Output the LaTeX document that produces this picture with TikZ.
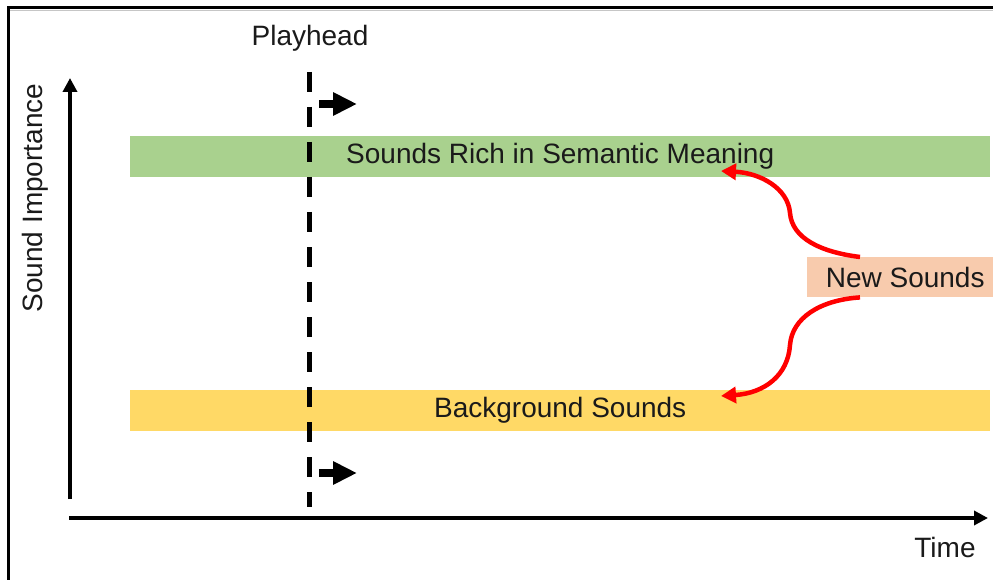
\documentclass[tikz,border=0pt]{standalone}
\usepackage{fontspec}
\setmainfont{Liberation Sans}
\usetikzlibrary{arrows.meta,calc}
\definecolor{bandgreen}{HTML}{A9D18E}
\definecolor{bandyellow}{HTML}{FFD966}
\definecolor{boxpeach}{HTML}{F8CBAD}
\definecolor{inktext}{HTML}{1A1A1A}
\begin{document}
\begin{tikzpicture}[x=1pt,y=-1pt,
  lbl/.style={font=\fontsize{28}{32}\selectfont, text=inktext, inner sep=0pt},
  band/.style={lbl, minimum width=860pt, minimum height=41pt, anchor=north west},
  axis/.style={line width=4pt, -{Triangle[length=14pt,width=14pt]}},
  move/.style={line width=8pt, -{Triangle[length=24pt,width=22pt]}},
  feed/.style={red, line width=4.5pt, -{Triangle[length=15pt,width=16pt]}},
  headline/.style={line width=5pt, dash pattern=on 20pt off 15pt}]

\useasboundingbox (0,0) rectangle (993,580);
\fill[white] (0,0) rectangle (993,580);

% outer frame (top and left edges)
\draw[gray!45, line width=1pt] (10,10.5) -- (1000,10.5);
\draw[line width=3pt] (8,600) -- (8,8) -- (1000,8);

% importance bands
\node[band, fill=bandgreen] (rich) at (130,136) {Sounds Rich in Semantic Meaning};
\node[band, fill=bandyellow] (bg) at (130,390) {Background Sounds};

% incoming sounds
\node[lbl, fill=boxpeach, minimum width=196pt, minimum height=40pt, anchor=north west] (new) at (807,257) {New Sounds};

% axes
\coordinate (ybot) at (70,499);
\coordinate (ytop) at (70,78);
\coordinate (xstart) at (69,518);
\coordinate (xend) at (988,518);
\draw[axis] (ybot) -- (ytop);
\draw[axis] (xstart) -- (xend);
\node[lbl, rotate=90] (ylab) at (35,198) {Sound Importance};
\node[lbl] (xlab) at (945,547) {Time};

% playhead
\node[lbl] (ph) at (310,38) {Playhead};
\coordinate (phtop) at (309,72);
\coordinate (phbot) at (309,507);
\draw[headline] (phtop) -- (phbot);
\coordinate (m1s) at (319,104);
\coordinate (m1e) at (357,104);
\coordinate (m2s) at (319,473);
\coordinate (m2e) at (357,473);
\draw[move] (m1s) -- (m1e);
\draw[move] (m2s) -- (m2e);

% routing of new sounds
\coordinate (richin) at (721,171);
\coordinate (bgin) at (721,396);
\draw[feed] ($(new.north west)+(53,0)$) .. controls (820,252) and (792,238) .. (790,213)
  .. controls (788,188) and (760,173) .. (richin);
\draw[feed] ($(new.south west)+(53,0)$) .. controls (820,300) and (792,318) .. (790,345)
  .. controls (788,375) and (765,393) .. (bgin);
\end{tikzpicture}
\end{document}
